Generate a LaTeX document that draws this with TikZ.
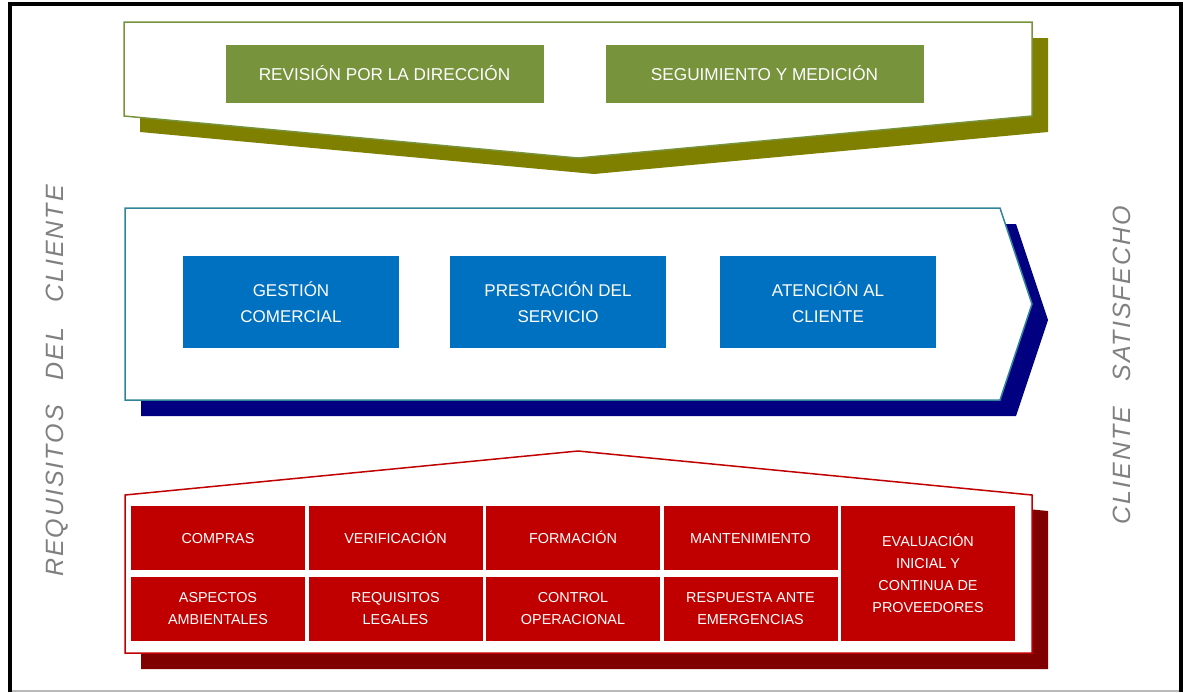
\documentclass[tikz,border=0pt]{standalone}
\usepackage{fontspec}
\setmainfont{Liberation Sans}
\newfontfamily\ladofont{Liberation Sans}[LetterSpace=8]
\definecolor{verde}{HTML}{77933C}
\definecolor{oliva}{HTML}{808000}
\definecolor{azul}{HTML}{0070C0}
\definecolor{azulborde}{HTML}{31849B}
\definecolor{marino}{HTML}{000080}
\definecolor{rojo}{HTML}{C00000}
\definecolor{granate}{HTML}{800000}
\definecolor{lado}{HTML}{808080}

\begin{document}
\begin{tikzpicture}[x=0.5pt,y=-0.5pt,
  cajaverde/.style={fill=verde,text=white,minimum width=159pt,minimum height=29pt,inner sep=0pt,
    text height=6.5pt,text depth=0pt,font=\fontsize{8.6}{13}\selectfont},
  cajaazul/.style={fill=azul,text=white,minimum width=108pt,minimum height=46pt,inner sep=0pt,
    align=center,font=\fontsize{8.5}{13}\selectfont},
  cajaroja/.style={fill=rojo,text=white,minimum width=87pt,minimum height=32pt,inner sep=0pt,
    align=center,font=\fontsize{7.2}{11}\selectfont},
  textolado/.style={rotate=90,text=lado,font=\ladofont\itshape\fontsize{12.5}{14}\selectfont}]

\useasboundingbox (0,0) rectangle (1183,692);

% marco
\draw[gray!55,line width=1pt] (9,690.5) -- (1181,690.5);
\draw[line width=2pt] (9.5,692) -- (9.5,3.7) -- (1181,3.7) -- (1181,692);

% direccion
\begin{scope}
\fill[oliva] (140,38) -- (1048,38) -- (1048,132) -- (594,174) -- (140,132) -- cycle;
\draw[verde,fill=white,line width=0.75pt] (124,22) -- (1032,22) -- (1032,116) -- (578,158) -- (124,116) -- cycle;
\node[cajaverde] (revision) at (384.5,73.5) {REVISIÓN POR LA DIRECCIÓN};
\node[cajaverde] (seguimiento) at (764.5,73.5) {SEGUIMIENTO Y MEDICIÓN};
\end{scope}

% procesos clave
\begin{scope}
\fill[marino] (141,224) -- (1016,224) -- (1048,320) -- (1016,416) -- (141,416) -- cycle;
\draw[azulborde,fill=white,line width=0.75pt] (125,208) -- (1000,208) -- (1032,304) -- (1000,400) -- (125,400) -- cycle;
\node[cajaazul] (gestion) at (291,302) {GESTIÓN\\COMERCIAL};
\node[cajaazul] (prestacion) at (558,302) {PRESTACIÓN DEL\\SERVICIO};
\node[cajaazul] (atencion) at (828,302) {ATENCIÓN AL\\CLIENTE};
\end{scope}

% apoyo
\begin{scope}
\fill[granate] (141,669) -- (141,511) -- (594,467) -- (1048,511) -- (1048,669) -- cycle;
\draw[rojo,fill=white,line width=0.75pt] (125,653) -- (125,495) -- (578,451) -- (1032,495) -- (1032,653) -- cycle;
\foreach \n/\x/\t in {compras/218/COMPRAS, verificacion/395.5/VERIFICACIÓN,
  formacion/573/FORMACIÓN, mantenimiento/750.5/MANTENIMIENTO}
{
\node[cajaroja,text height=5.2pt,text depth=0pt] (\n) at (\x,538) {\t};
}
\foreach \n/\x/\t in {aspectos/218/{ASPECTOS\\AMBIENTALES}, requisitos/395.5/{REQUISITOS\\LEGALES},
  control/573/{CONTROL\\OPERACIONAL}, respuesta/750.5/{RESPUESTA ANTE\\EMERGENCIAS}}
{
\node[cajaroja] (\n) at (\x,609) {\t};
}
\node[cajaroja,minimum height=67.5pt] (evaluacion) at (928,573.5) {EVALUACIÓN\\INICIAL Y\\CONTINUA DE\\PROVEEDORES};
\end{scope}

\node[textolado] (entrada) at (57,381) {REQUISITOS\quad DEL\quad CLIENTE};
\node[textolado] (salida) at (1122,365) {CLIENTE\quad SATISFECHO};

\end{tikzpicture}
\end{document}
